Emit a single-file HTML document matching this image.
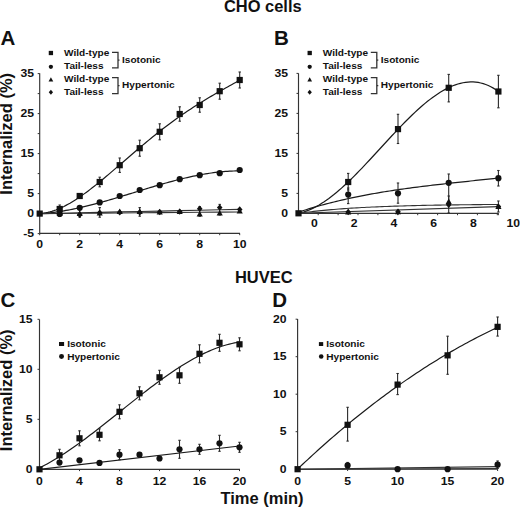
<!DOCTYPE html>
<html><head><meta charset="utf-8"><style>
html,body{margin:0;padding:0;background:#fff;}
svg{display:block;}
text{font-family:"Liberation Sans", sans-serif;font-weight:bold;fill:#111;}
</style></head><body>
<svg width="520" height="508" viewBox="0 0 520 508">
<rect width="520" height="508" fill="#fff"/>
<text transform="translate(262.80,12.20) scale(1.055,1)" font-size="15.6" text-anchor="middle">CHO cells</text>
<text x="263.80" y="283.40" font-size="16.5" text-anchor="middle" >HUVEC</text>
<text x="0.50" y="45.20" font-size="20.5" text-anchor="start" >A</text>
<text x="273.90" y="44.90" font-size="20.5" text-anchor="start" >B</text>
<text x="0.50" y="306.60" font-size="20.5" text-anchor="start" >C</text>
<text x="272.30" y="306.90" font-size="20.5" text-anchor="start" >D</text>
<line x1="39.70" y1="73.30" x2="39.70" y2="233.60" stroke="#333" stroke-width="1.15"/>
<line x1="39.70" y1="233.40" x2="240.00" y2="233.40" stroke="#333" stroke-width="1.15"/>
<line x1="37.70" y1="233.60" x2="39.70" y2="233.60" stroke="#333" stroke-width="1"/>
<line x1="37.70" y1="213.60" x2="39.70" y2="213.60" stroke="#333" stroke-width="1"/>
<line x1="37.70" y1="193.60" x2="39.70" y2="193.60" stroke="#333" stroke-width="1"/>
<line x1="37.70" y1="173.60" x2="39.70" y2="173.60" stroke="#333" stroke-width="1"/>
<line x1="37.70" y1="153.60" x2="39.70" y2="153.60" stroke="#333" stroke-width="1"/>
<line x1="37.70" y1="133.60" x2="39.70" y2="133.60" stroke="#333" stroke-width="1"/>
<line x1="37.70" y1="113.60" x2="39.70" y2="113.60" stroke="#333" stroke-width="1"/>
<line x1="37.70" y1="93.60" x2="39.70" y2="93.60" stroke="#333" stroke-width="1"/>
<line x1="37.70" y1="73.60" x2="39.70" y2="73.60" stroke="#333" stroke-width="1"/>
<line x1="39.70" y1="233.40" x2="39.70" y2="235.20" stroke="#333" stroke-width="1"/>
<line x1="59.70" y1="233.40" x2="59.70" y2="235.20" stroke="#333" stroke-width="1"/>
<line x1="79.70" y1="233.40" x2="79.70" y2="235.20" stroke="#333" stroke-width="1"/>
<line x1="99.70" y1="233.40" x2="99.70" y2="235.20" stroke="#333" stroke-width="1"/>
<line x1="119.70" y1="233.40" x2="119.70" y2="235.20" stroke="#333" stroke-width="1"/>
<line x1="139.70" y1="233.40" x2="139.70" y2="235.20" stroke="#333" stroke-width="1"/>
<line x1="159.70" y1="233.40" x2="159.70" y2="235.20" stroke="#333" stroke-width="1"/>
<line x1="179.70" y1="233.40" x2="179.70" y2="235.20" stroke="#333" stroke-width="1"/>
<line x1="199.70" y1="233.40" x2="199.70" y2="235.20" stroke="#333" stroke-width="1"/>
<line x1="219.70" y1="233.40" x2="219.70" y2="235.20" stroke="#333" stroke-width="1"/>
<line x1="239.70" y1="233.40" x2="239.70" y2="235.20" stroke="#333" stroke-width="1"/>
<text transform="translate(34.10,77.10) scale(1.08,1)" font-size="11.3" text-anchor="end">35</text>
<text transform="translate(34.10,117.10) scale(1.08,1)" font-size="11.3" text-anchor="end">25</text>
<text transform="translate(34.10,157.10) scale(1.08,1)" font-size="11.3" text-anchor="end">15</text>
<text transform="translate(34.10,197.10) scale(1.08,1)" font-size="11.3" text-anchor="end">5</text>
<text transform="translate(34.10,217.10) scale(1.08,1)" font-size="11.3" text-anchor="end">0</text>
<text transform="translate(34.10,237.10) scale(1.08,1)" font-size="11.3" text-anchor="end">-5</text>
<text transform="translate(39.70,247.90) scale(1.08,1)" font-size="11.3" text-anchor="middle">0</text>
<text transform="translate(79.70,247.90) scale(1.08,1)" font-size="11.3" text-anchor="middle">2</text>
<text transform="translate(119.70,247.90) scale(1.08,1)" font-size="11.3" text-anchor="middle">4</text>
<text transform="translate(159.70,247.90) scale(1.08,1)" font-size="11.3" text-anchor="middle">6</text>
<text transform="translate(199.70,247.90) scale(1.08,1)" font-size="11.3" text-anchor="middle">8</text>
<text transform="translate(239.70,247.90) scale(1.08,1)" font-size="11.3" text-anchor="middle">10</text>
<text transform="translate(12.40,194.70) rotate(-90) scale(1.03,1)" font-size="16">Internalized (%)</text>
<polyline points="39.70,213.60 41.72,213.44 43.74,213.19 45.76,212.85 47.78,212.43 49.80,211.93 51.82,211.35 53.84,210.69 55.86,209.97 57.88,209.18 59.90,208.32 61.92,207.40 63.94,206.42 65.96,205.38 67.98,204.29 70.00,203.15 72.02,201.95 74.04,200.71 76.06,199.43 78.08,198.10 80.10,196.73 82.12,195.32 84.14,193.88 86.16,192.41 88.18,190.90 90.21,189.37 92.23,187.81 94.25,186.22 96.27,184.61 98.29,182.98 100.31,181.34 102.33,179.67 104.35,177.99 106.37,176.29 108.39,174.59 110.41,172.87 112.43,171.14 114.45,169.41 116.47,167.67 118.49,165.93 120.51,164.18 122.53,162.43 124.55,160.68 126.57,158.94 128.59,157.19 130.61,155.45 132.63,153.71 134.65,151.98 136.67,150.26 138.69,148.54 140.71,146.83 142.73,145.13 144.75,143.44 146.77,141.77 148.79,140.10 150.81,138.45 152.83,136.81 154.85,135.18 156.87,133.57 158.89,131.97 160.91,130.39 162.93,128.82 164.95,127.27 166.97,125.73 168.99,124.22 171.01,122.71 173.03,121.23 175.05,119.76 177.07,118.31 179.09,116.88 181.11,115.46 183.13,114.07 185.15,112.69 187.17,111.32 189.19,109.97 191.22,108.64 193.24,107.33 195.26,106.03 197.28,104.74 199.30,103.47 201.32,102.22 203.34,100.98 205.36,99.75 207.38,98.54 209.40,97.33 211.42,96.14 213.44,94.96 215.46,93.79 217.48,92.63 219.50,91.47 221.52,90.33 223.54,89.19 225.56,88.05 227.58,86.92 229.60,85.79 231.62,84.66 233.64,83.53 235.66,82.40 237.68,81.27 239.70,80.13" fill="none" stroke="#1a1a1a" stroke-width="1.2" stroke-linejoin="round"/>
<polyline points="39.70,213.60 41.72,213.48 43.74,213.33 45.76,213.16 47.78,212.98 49.80,212.77 51.82,212.54 53.84,212.30 55.86,212.04 57.88,211.75 59.90,211.46 61.92,211.14 63.94,210.81 65.96,210.46 67.98,210.10 70.00,209.72 72.02,209.32 74.04,208.91 76.06,208.49 78.08,208.06 80.10,207.61 82.12,207.15 84.14,206.68 86.16,206.19 88.18,205.70 90.21,205.19 92.23,204.67 94.25,204.15 96.27,203.61 98.29,203.07 100.31,202.52 102.33,201.96 104.35,201.39 106.37,200.82 108.39,200.24 110.41,199.65 112.43,199.06 114.45,198.47 116.47,197.87 118.49,197.26 120.51,196.65 122.53,196.04 124.55,195.43 126.57,194.81 128.59,194.19 130.61,193.57 132.63,192.95 134.65,192.33 136.67,191.71 138.69,191.09 140.71,190.47 142.73,189.85 144.75,189.23 146.77,188.62 148.79,188.01 150.81,187.40 152.83,186.80 154.85,186.20 156.87,185.60 158.89,185.01 160.91,184.43 162.93,183.85 164.95,183.28 166.97,182.71 168.99,182.15 171.01,181.60 173.03,181.06 175.05,180.53 177.07,180.01 179.09,179.49 181.11,178.99 183.13,178.50 185.15,178.02 187.17,177.55 189.19,177.09 191.22,176.65 193.24,176.21 195.26,175.79 197.28,175.39 199.30,175.00 201.32,174.62 203.34,174.26 205.36,173.92 207.38,173.59 209.40,173.28 211.42,172.99 213.44,172.71 215.46,172.45 217.48,172.21 219.50,171.99 221.52,171.79 223.54,171.61 225.56,171.44 227.58,171.30 229.60,171.18 231.62,171.09 233.64,171.01 235.66,170.96 237.68,170.93 239.70,170.92" fill="none" stroke="#1a1a1a" stroke-width="1.2" stroke-linejoin="round"/>
<polyline points="39.70,213.60 59.70,213.44 79.70,213.28 99.70,213.12 119.70,212.96 139.70,212.80 159.70,212.64 179.70,212.48 199.70,212.32 219.70,212.16 239.70,212.00" fill="none" stroke="#333" stroke-width="1.1" stroke-linejoin="round"/>
<polyline points="39.70,213.60 59.70,213.18 79.70,212.76 99.70,212.34 119.70,211.92 139.70,211.50 159.70,211.08 179.70,210.66 199.70,210.24 219.70,209.82 239.70,209.40" fill="none" stroke="#333" stroke-width="1.1" stroke-linejoin="round"/>
<line x1="59.70" y1="205.00" x2="59.70" y2="213.00" stroke="#2a2a2a" stroke-width="1.1"/>
<line x1="58.50" y1="205.00" x2="60.90" y2="205.00" stroke="#2a2a2a" stroke-width="1.1"/>
<line x1="58.50" y1="213.00" x2="60.90" y2="213.00" stroke="#2a2a2a" stroke-width="1.1"/>
<line x1="79.70" y1="193.60" x2="79.70" y2="198.40" stroke="#2a2a2a" stroke-width="1.1"/>
<line x1="78.50" y1="193.60" x2="80.90" y2="193.60" stroke="#2a2a2a" stroke-width="1.1"/>
<line x1="78.50" y1="198.40" x2="80.90" y2="198.40" stroke="#2a2a2a" stroke-width="1.1"/>
<line x1="99.70" y1="177.20" x2="99.70" y2="186.80" stroke="#2a2a2a" stroke-width="1.1"/>
<line x1="98.50" y1="177.20" x2="100.90" y2="177.20" stroke="#2a2a2a" stroke-width="1.1"/>
<line x1="98.50" y1="186.80" x2="100.90" y2="186.80" stroke="#2a2a2a" stroke-width="1.1"/>
<line x1="119.70" y1="158.00" x2="119.70" y2="172.40" stroke="#2a2a2a" stroke-width="1.1"/>
<line x1="118.50" y1="158.00" x2="120.90" y2="158.00" stroke="#2a2a2a" stroke-width="1.1"/>
<line x1="118.50" y1="172.40" x2="120.90" y2="172.40" stroke="#2a2a2a" stroke-width="1.1"/>
<line x1="139.70" y1="140.20" x2="139.70" y2="156.20" stroke="#2a2a2a" stroke-width="1.1"/>
<line x1="138.50" y1="140.20" x2="140.90" y2="140.20" stroke="#2a2a2a" stroke-width="1.1"/>
<line x1="138.50" y1="156.20" x2="140.90" y2="156.20" stroke="#2a2a2a" stroke-width="1.1"/>
<line x1="159.70" y1="123.80" x2="159.70" y2="139.80" stroke="#2a2a2a" stroke-width="1.1"/>
<line x1="158.50" y1="123.80" x2="160.90" y2="123.80" stroke="#2a2a2a" stroke-width="1.1"/>
<line x1="158.50" y1="139.80" x2="160.90" y2="139.80" stroke="#2a2a2a" stroke-width="1.1"/>
<line x1="179.70" y1="106.80" x2="179.70" y2="121.20" stroke="#2a2a2a" stroke-width="1.1"/>
<line x1="178.50" y1="106.80" x2="180.90" y2="106.80" stroke="#2a2a2a" stroke-width="1.1"/>
<line x1="178.50" y1="121.20" x2="180.90" y2="121.20" stroke="#2a2a2a" stroke-width="1.1"/>
<line x1="199.70" y1="97.80" x2="199.70" y2="112.20" stroke="#2a2a2a" stroke-width="1.1"/>
<line x1="198.50" y1="97.80" x2="200.90" y2="97.80" stroke="#2a2a2a" stroke-width="1.1"/>
<line x1="198.50" y1="112.20" x2="200.90" y2="112.20" stroke="#2a2a2a" stroke-width="1.1"/>
<line x1="219.70" y1="83.20" x2="219.70" y2="99.20" stroke="#2a2a2a" stroke-width="1.1"/>
<line x1="218.50" y1="83.20" x2="220.90" y2="83.20" stroke="#2a2a2a" stroke-width="1.1"/>
<line x1="218.50" y1="99.20" x2="220.90" y2="99.20" stroke="#2a2a2a" stroke-width="1.1"/>
<line x1="239.70" y1="72.00" x2="239.70" y2="88.00" stroke="#2a2a2a" stroke-width="1.1"/>
<line x1="238.50" y1="72.00" x2="240.90" y2="72.00" stroke="#2a2a2a" stroke-width="1.1"/>
<line x1="238.50" y1="88.00" x2="240.90" y2="88.00" stroke="#2a2a2a" stroke-width="1.1"/>
<line x1="79.70" y1="208.80" x2="79.70" y2="217.20" stroke="#2a2a2a" stroke-width="1.1"/>
<line x1="78.50" y1="208.80" x2="80.90" y2="208.80" stroke="#2a2a2a" stroke-width="1.1"/>
<line x1="78.50" y1="217.20" x2="80.90" y2="217.20" stroke="#2a2a2a" stroke-width="1.1"/>
<line x1="99.70" y1="207.60" x2="99.70" y2="217.20" stroke="#2a2a2a" stroke-width="1.1"/>
<line x1="98.50" y1="207.60" x2="100.90" y2="207.60" stroke="#2a2a2a" stroke-width="1.1"/>
<line x1="98.50" y1="217.20" x2="100.90" y2="217.20" stroke="#2a2a2a" stroke-width="1.1"/>
<line x1="139.70" y1="207.60" x2="139.70" y2="216.20" stroke="#2a2a2a" stroke-width="1.1"/>
<line x1="138.50" y1="207.60" x2="140.90" y2="207.60" stroke="#2a2a2a" stroke-width="1.1"/>
<line x1="138.50" y1="216.20" x2="140.90" y2="216.20" stroke="#2a2a2a" stroke-width="1.1"/>
<line x1="199.70" y1="206.60" x2="199.70" y2="216.20" stroke="#2a2a2a" stroke-width="1.1"/>
<line x1="198.50" y1="206.60" x2="200.90" y2="206.60" stroke="#2a2a2a" stroke-width="1.1"/>
<line x1="198.50" y1="216.20" x2="200.90" y2="216.20" stroke="#2a2a2a" stroke-width="1.1"/>
<line x1="219.70" y1="204.40" x2="219.70" y2="215.00" stroke="#2a2a2a" stroke-width="1.1"/>
<line x1="218.50" y1="204.40" x2="220.90" y2="204.40" stroke="#2a2a2a" stroke-width="1.1"/>
<line x1="218.50" y1="215.00" x2="220.90" y2="215.00" stroke="#2a2a2a" stroke-width="1.1"/>
<rect x="36.60" y="210.50" width="6.20" height="6.20" fill="#111"/>
<rect x="56.60" y="205.90" width="6.20" height="6.20" fill="#111"/>
<rect x="76.60" y="192.90" width="6.20" height="6.20" fill="#111"/>
<rect x="96.60" y="178.90" width="6.20" height="6.20" fill="#111"/>
<rect x="116.60" y="162.10" width="6.20" height="6.20" fill="#111"/>
<rect x="136.60" y="145.10" width="6.20" height="6.20" fill="#111"/>
<rect x="156.60" y="128.70" width="6.20" height="6.20" fill="#111"/>
<rect x="176.60" y="110.90" width="6.20" height="6.20" fill="#111"/>
<rect x="196.60" y="101.90" width="6.20" height="6.20" fill="#111"/>
<rect x="216.60" y="88.10" width="6.20" height="6.20" fill="#111"/>
<rect x="236.60" y="76.90" width="6.20" height="6.20" fill="#111"/>
<circle cx="59.70" cy="214.00" r="3.10" fill="#111"/>
<circle cx="79.70" cy="207.80" r="3.10" fill="#111"/>
<circle cx="99.70" cy="202.40" r="3.10" fill="#111"/>
<circle cx="119.70" cy="196.00" r="3.10" fill="#111"/>
<circle cx="139.70" cy="190.00" r="3.10" fill="#111"/>
<circle cx="159.70" cy="185.20" r="3.10" fill="#111"/>
<circle cx="179.70" cy="179.20" r="3.10" fill="#111"/>
<circle cx="199.70" cy="175.20" r="3.10" fill="#111"/>
<circle cx="219.70" cy="173.20" r="3.10" fill="#111"/>
<circle cx="239.70" cy="170.00" r="3.10" fill="#111"/>
<polygon points="59.70,210.12 62.78,215.58 56.62,215.58" fill="#111"/>
<polygon points="59.70,210.78 62.50,214.00 59.70,217.22 56.90,214.00" fill="#111"/>
<polygon points="79.70,210.52 82.78,215.98 76.62,215.98" fill="#111"/>
<polygon points="79.70,211.58 82.50,214.80 79.70,218.02 76.90,214.80" fill="#111"/>
<polygon points="99.70,209.92 102.78,215.38 96.62,215.38" fill="#111"/>
<polygon points="99.70,209.58 102.50,212.80 99.70,216.02 96.90,212.80" fill="#111"/>
<polygon points="119.70,208.52 122.78,213.98 116.62,213.98" fill="#111"/>
<polygon points="119.70,209.18 122.50,212.40 119.70,215.62 116.90,212.40" fill="#111"/>
<polygon points="139.70,208.52 142.78,213.98 136.62,213.98" fill="#111"/>
<polygon points="139.70,209.18 142.50,212.40 139.70,215.62 136.90,212.40" fill="#111"/>
<polygon points="159.70,208.92 162.78,214.38 156.62,214.38" fill="#111"/>
<polygon points="159.70,208.78 162.50,212.00 159.70,215.22 156.90,212.00" fill="#111"/>
<polygon points="179.70,208.52 182.78,213.98 176.62,213.98" fill="#111"/>
<polygon points="179.70,208.38 182.50,211.60 179.70,214.82 176.90,211.60" fill="#111"/>
<polygon points="199.70,210.92 202.78,216.38 196.62,216.38" fill="#111"/>
<polygon points="199.70,205.58 202.50,208.80 199.70,212.02 196.90,208.80" fill="#111"/>
<polygon points="219.70,209.92 222.78,215.38 216.62,215.38" fill="#111"/>
<polygon points="219.70,204.38 222.50,207.60 219.70,210.82 216.90,207.60" fill="#111"/>
<polygon points="239.70,208.12 242.78,213.58 236.62,213.58" fill="#111"/>
<polygon points="239.70,206.18 242.50,209.40 239.70,212.62 236.90,209.40" fill="#111"/>
<rect x="48.75" y="50.85" width="4.30" height="4.30" fill="#111"/>
<text transform="translate(64.00,55.60) scale(1.085,1)" font-size="9.3" text-anchor="start">Wild-type</text>
<circle cx="50.90" cy="66.80" r="2.15" fill="#111"/>
<text transform="translate(64.00,69.20) scale(1.085,1)" font-size="9.3" text-anchor="start">Tail-less</text>
<polygon points="50.90,77.23 53.27,81.43 48.54,81.43" fill="#111"/>
<text transform="translate(64.00,82.10) scale(1.085,1)" font-size="9.3" text-anchor="start">Wild-type</text>
<polygon points="50.90,89.73 53.05,92.20 50.90,94.67 48.75,92.20" fill="#111"/>
<text transform="translate(64.00,94.60) scale(1.085,1)" font-size="9.3" text-anchor="start">Tail-less</text>
<path d="M112.00,52.30 H118.00 V67.90 H112.00" fill="none" stroke="#333" stroke-width="1.3"/>
<line x1="118.00" y1="60.10" x2="119.50" y2="60.10" stroke="#333" stroke-width="1.3"/>
<text transform="translate(122.00,62.80) scale(1.085,1)" font-size="9.3" text-anchor="start">Isotonic</text>
<path d="M112.00,77.60 H118.00 V93.60 H112.00" fill="none" stroke="#333" stroke-width="1.3"/>
<line x1="118.00" y1="85.60" x2="119.50" y2="85.60" stroke="#333" stroke-width="1.3"/>
<text transform="translate(122.00,88.10) scale(1.085,1)" font-size="9.3" text-anchor="start">Hypertonic</text>
<line x1="298.50" y1="73.30" x2="298.50" y2="213.40" stroke="#333" stroke-width="1.15"/>
<line x1="298.50" y1="213.40" x2="498.70" y2="213.40" stroke="#333" stroke-width="1.15"/>
<line x1="296.50" y1="213.40" x2="298.50" y2="213.40" stroke="#333" stroke-width="1"/>
<line x1="296.50" y1="193.40" x2="298.50" y2="193.40" stroke="#333" stroke-width="1"/>
<line x1="296.50" y1="173.40" x2="298.50" y2="173.40" stroke="#333" stroke-width="1"/>
<line x1="296.50" y1="153.40" x2="298.50" y2="153.40" stroke="#333" stroke-width="1"/>
<line x1="296.50" y1="133.40" x2="298.50" y2="133.40" stroke="#333" stroke-width="1"/>
<line x1="296.50" y1="113.40" x2="298.50" y2="113.40" stroke="#333" stroke-width="1"/>
<line x1="296.50" y1="93.40" x2="298.50" y2="93.40" stroke="#333" stroke-width="1"/>
<line x1="296.50" y1="73.40" x2="298.50" y2="73.40" stroke="#333" stroke-width="1"/>
<line x1="318.20" y1="213.40" x2="318.20" y2="215.20" stroke="#333" stroke-width="1"/>
<line x1="338.10" y1="213.40" x2="338.10" y2="215.20" stroke="#333" stroke-width="1"/>
<line x1="358.00" y1="213.40" x2="358.00" y2="215.20" stroke="#333" stroke-width="1"/>
<line x1="377.90" y1="213.40" x2="377.90" y2="215.20" stroke="#333" stroke-width="1"/>
<line x1="397.80" y1="213.40" x2="397.80" y2="215.20" stroke="#333" stroke-width="1"/>
<line x1="417.70" y1="213.40" x2="417.70" y2="215.20" stroke="#333" stroke-width="1"/>
<line x1="437.60" y1="213.40" x2="437.60" y2="215.20" stroke="#333" stroke-width="1"/>
<line x1="457.50" y1="213.40" x2="457.50" y2="215.20" stroke="#333" stroke-width="1"/>
<line x1="477.40" y1="213.40" x2="477.40" y2="215.20" stroke="#333" stroke-width="1"/>
<line x1="497.30" y1="213.40" x2="497.30" y2="215.20" stroke="#333" stroke-width="1"/>
<line x1="498.40" y1="213.40" x2="498.40" y2="215.20" stroke="#333" stroke-width="1"/>
<text transform="translate(288.10,76.90) scale(1.08,1)" font-size="11.3" text-anchor="end">35</text>
<text transform="translate(288.10,116.90) scale(1.08,1)" font-size="11.3" text-anchor="end">25</text>
<text transform="translate(288.10,156.90) scale(1.08,1)" font-size="11.3" text-anchor="end">15</text>
<text transform="translate(288.10,196.90) scale(1.08,1)" font-size="11.3" text-anchor="end">5</text>
<text transform="translate(288.10,216.90) scale(1.08,1)" font-size="11.3" text-anchor="end">0</text>
<text transform="translate(314.30,226.60) scale(1.08,1)" font-size="11.3" text-anchor="middle">0</text>
<text transform="translate(354.10,226.60) scale(1.08,1)" font-size="11.3" text-anchor="middle">2</text>
<text transform="translate(393.90,226.60) scale(1.08,1)" font-size="11.3" text-anchor="middle">4</text>
<text transform="translate(433.70,226.60) scale(1.08,1)" font-size="11.3" text-anchor="middle">6</text>
<text transform="translate(473.50,226.60) scale(1.08,1)" font-size="11.3" text-anchor="middle">8</text>
<text transform="translate(513.30,226.60) scale(1.08,1)" font-size="11.3" text-anchor="middle">10</text>
<rect x="307.55" y="50.85" width="4.30" height="4.30" fill="#111"/>
<text transform="translate(322.80,55.60) scale(1.085,1)" font-size="9.3" text-anchor="start">Wild-type</text>
<circle cx="309.70" cy="66.80" r="2.15" fill="#111"/>
<text transform="translate(322.80,69.20) scale(1.085,1)" font-size="9.3" text-anchor="start">Tail-less</text>
<polygon points="309.70,77.23 312.06,81.43 307.33,81.43" fill="#111"/>
<text transform="translate(322.80,82.10) scale(1.085,1)" font-size="9.3" text-anchor="start">Wild-type</text>
<polygon points="309.70,89.73 311.85,92.20 309.70,94.67 307.55,92.20" fill="#111"/>
<text transform="translate(322.80,94.60) scale(1.085,1)" font-size="9.3" text-anchor="start">Tail-less</text>
<path d="M370.80,52.30 H376.80 V67.90 H370.80" fill="none" stroke="#333" stroke-width="1.3"/>
<line x1="376.80" y1="60.10" x2="378.30" y2="60.10" stroke="#333" stroke-width="1.3"/>
<text transform="translate(380.80,62.80) scale(1.085,1)" font-size="9.3" text-anchor="start">Isotonic</text>
<path d="M370.80,77.60 H376.80 V93.60 H370.80" fill="none" stroke="#333" stroke-width="1.3"/>
<line x1="376.80" y1="85.60" x2="378.30" y2="85.60" stroke="#333" stroke-width="1.3"/>
<text transform="translate(380.80,88.10) scale(1.085,1)" font-size="9.3" text-anchor="start">Hypertonic</text>
<polyline points="298.50,213.32 301.03,212.74 303.56,212.03 306.09,211.18 308.62,210.21 311.15,209.12 313.68,207.91 316.21,206.59 318.74,205.16 321.27,203.62 323.80,201.98 326.33,200.25 328.86,198.43 331.39,196.51 333.93,194.52 336.46,192.44 338.99,190.29 341.52,188.08 344.05,185.79 346.58,183.44 349.11,181.04 351.64,178.58 354.17,176.07 356.70,173.52 359.23,170.93 361.76,168.30 364.29,165.64 366.82,162.96 369.35,160.25 371.88,157.52 374.41,154.77 376.94,152.02 379.47,149.26 382.00,146.49 384.53,143.73 387.06,140.98 389.59,138.24 392.12,135.51 394.65,132.80 397.18,130.12 399.72,127.46 402.25,124.84 404.78,122.25 407.31,119.71 409.84,117.21 412.37,114.76 414.90,112.36 417.43,110.02 419.96,107.75 422.49,105.54 425.02,103.40 427.55,101.33 430.08,99.35 432.61,97.45 435.14,95.64 437.67,93.92 440.20,92.30 442.73,90.77 445.26,89.36 447.79,88.05 450.32,86.86 452.85,85.78 455.38,84.83 457.91,84.00 460.44,83.31 462.97,82.74 465.51,82.32 468.04,82.05 470.57,81.92 473.10,81.94 475.63,82.12 478.16,82.46 480.69,82.97 483.22,83.64 485.75,84.49 488.28,85.52 490.81,86.73 493.34,88.12 495.87,89.71 498.40,91.49" fill="none" stroke="#1a1a1a" stroke-width="1.2" stroke-linejoin="round"/>
<polyline points="298.50,212.16 301.03,211.33 303.56,210.52 306.09,209.72 308.62,208.94 311.15,208.18 313.68,207.43 316.21,206.70 318.74,205.98 321.27,205.27 323.80,204.59 326.33,203.91 328.86,203.25 331.39,202.60 333.93,201.97 336.46,201.35 338.99,200.74 341.52,200.15 344.05,199.57 346.58,199.00 349.11,198.44 351.64,197.90 354.17,197.36 356.70,196.84 359.23,196.33 361.76,195.83 364.29,195.34 366.82,194.86 369.35,194.39 371.88,193.93 374.41,193.48 376.94,193.04 379.47,192.61 382.00,192.19 384.53,191.77 387.06,191.37 389.59,190.97 392.12,190.58 394.65,190.20 397.18,189.82 399.72,189.45 402.25,189.09 404.78,188.74 407.31,188.39 409.84,188.05 412.37,187.71 414.90,187.38 417.43,187.05 419.96,186.73 422.49,186.42 425.02,186.11 427.55,185.80 430.08,185.50 432.61,185.20 435.14,184.90 437.67,184.61 440.20,184.32 442.73,184.04 445.26,183.76 447.79,183.47 450.32,183.20 452.85,182.92 455.38,182.64 457.91,182.37 460.44,182.10 462.97,181.82 465.51,181.55 468.04,181.28 470.57,181.01 473.10,180.74 475.63,180.47 478.16,180.20 480.69,179.92 483.22,179.65 485.75,179.37 488.28,179.10 490.81,178.82 493.34,178.53 495.87,178.25 498.40,177.96" fill="none" stroke="#1a1a1a" stroke-width="1.2" stroke-linejoin="round"/>
<polyline points="298.50,213.30 301.03,212.95 303.56,212.61 306.09,212.29 308.62,211.98 311.15,211.68 313.68,211.39 316.21,211.11 318.74,210.84 321.27,210.59 323.80,210.34 326.33,210.10 328.86,209.87 331.39,209.65 333.93,209.44 336.46,209.23 338.99,209.04 341.52,208.85 344.05,208.66 346.58,208.49 349.11,208.32 351.64,208.16 354.17,208.00 356.70,207.85 359.23,207.71 361.76,207.57 364.29,207.43 366.82,207.30 369.35,207.18 371.88,207.06 374.41,206.94 376.94,206.83 379.47,206.73 382.00,206.62 384.53,206.53 387.06,206.43 389.59,206.34 392.12,206.25 394.65,206.17 397.18,206.09 399.72,206.01 402.25,205.93 404.78,205.86 407.31,205.79 409.84,205.72 412.37,205.66 414.90,205.59 417.43,205.53 419.96,205.48 422.49,205.42 425.02,205.37 427.55,205.32 430.08,205.27 432.61,205.22 435.14,205.17 437.67,205.13 440.20,205.09 442.73,205.05 445.26,205.01 447.79,204.97 450.32,204.93 452.85,204.90 455.38,204.86 457.91,204.83 460.44,204.80 462.97,204.77 465.51,204.74 468.04,204.71 470.57,204.69 473.10,204.66 475.63,204.64 478.16,204.61 480.69,204.59 483.22,204.57 485.75,204.54 488.28,204.52 490.81,204.50 493.34,204.49 495.87,204.47 498.40,204.45" fill="none" stroke="#333" stroke-width="1.1" stroke-linejoin="round"/>
<line x1="298.50" y1="213.30" x2="498.40" y2="206.60" stroke="#333" stroke-width="1.1"/>
<line x1="348.20" y1="173.40" x2="348.20" y2="190.00" stroke="#2a2a2a" stroke-width="1.1"/>
<line x1="347.00" y1="173.40" x2="349.40" y2="173.40" stroke="#2a2a2a" stroke-width="1.1"/>
<line x1="347.00" y1="190.00" x2="349.40" y2="190.00" stroke="#2a2a2a" stroke-width="1.1"/>
<line x1="398.00" y1="114.30" x2="398.00" y2="143.50" stroke="#2a2a2a" stroke-width="1.1"/>
<line x1="396.80" y1="114.30" x2="399.20" y2="114.30" stroke="#2a2a2a" stroke-width="1.1"/>
<line x1="396.80" y1="143.50" x2="399.20" y2="143.50" stroke="#2a2a2a" stroke-width="1.1"/>
<line x1="448.70" y1="74.40" x2="448.70" y2="101.90" stroke="#2a2a2a" stroke-width="1.1"/>
<line x1="447.50" y1="74.40" x2="449.90" y2="74.40" stroke="#2a2a2a" stroke-width="1.1"/>
<line x1="447.50" y1="101.90" x2="449.90" y2="101.90" stroke="#2a2a2a" stroke-width="1.1"/>
<line x1="498.40" y1="75.30" x2="498.40" y2="107.80" stroke="#2a2a2a" stroke-width="1.1"/>
<line x1="497.20" y1="75.30" x2="499.60" y2="75.30" stroke="#2a2a2a" stroke-width="1.1"/>
<line x1="497.20" y1="107.80" x2="499.60" y2="107.80" stroke="#2a2a2a" stroke-width="1.1"/>
<line x1="348.20" y1="188.00" x2="348.20" y2="203.60" stroke="#2a2a2a" stroke-width="1.1"/>
<line x1="347.00" y1="188.00" x2="349.40" y2="188.00" stroke="#2a2a2a" stroke-width="1.1"/>
<line x1="347.00" y1="203.60" x2="349.40" y2="203.60" stroke="#2a2a2a" stroke-width="1.1"/>
<line x1="398.00" y1="183.00" x2="398.00" y2="203.20" stroke="#2a2a2a" stroke-width="1.1"/>
<line x1="396.80" y1="183.00" x2="399.20" y2="183.00" stroke="#2a2a2a" stroke-width="1.1"/>
<line x1="396.80" y1="203.20" x2="399.20" y2="203.20" stroke="#2a2a2a" stroke-width="1.1"/>
<line x1="448.70" y1="174.00" x2="448.70" y2="203.00" stroke="#2a2a2a" stroke-width="1.1"/>
<line x1="447.50" y1="174.00" x2="449.90" y2="174.00" stroke="#2a2a2a" stroke-width="1.1"/>
<line x1="447.50" y1="203.00" x2="449.90" y2="203.00" stroke="#2a2a2a" stroke-width="1.1"/>
<line x1="498.40" y1="170.50" x2="498.40" y2="186.00" stroke="#2a2a2a" stroke-width="1.1"/>
<line x1="497.20" y1="170.50" x2="499.60" y2="170.50" stroke="#2a2a2a" stroke-width="1.1"/>
<line x1="497.20" y1="186.00" x2="499.60" y2="186.00" stroke="#2a2a2a" stroke-width="1.1"/>
<line x1="448.70" y1="196.00" x2="448.70" y2="213.00" stroke="#2a2a2a" stroke-width="1.1"/>
<line x1="447.50" y1="196.00" x2="449.90" y2="196.00" stroke="#2a2a2a" stroke-width="1.1"/>
<line x1="447.50" y1="213.00" x2="449.90" y2="213.00" stroke="#2a2a2a" stroke-width="1.1"/>
<line x1="498.40" y1="201.00" x2="498.40" y2="212.00" stroke="#2a2a2a" stroke-width="1.1"/>
<line x1="497.20" y1="201.00" x2="499.60" y2="201.00" stroke="#2a2a2a" stroke-width="1.1"/>
<line x1="497.20" y1="212.00" x2="499.60" y2="212.00" stroke="#2a2a2a" stroke-width="1.1"/>
<rect x="295.40" y="210.20" width="6.20" height="6.20" fill="#111"/>
<rect x="345.10" y="178.90" width="6.20" height="6.20" fill="#111"/>
<rect x="394.90" y="126.00" width="6.20" height="6.20" fill="#111"/>
<rect x="445.60" y="84.70" width="6.20" height="6.20" fill="#111"/>
<rect x="495.30" y="88.40" width="6.20" height="6.20" fill="#111"/>
<circle cx="348.20" cy="194.60" r="3.10" fill="#111"/>
<circle cx="398.00" cy="193.30" r="3.10" fill="#111"/>
<circle cx="448.70" cy="182.80" r="3.10" fill="#111"/>
<circle cx="498.40" cy="178.20" r="3.10" fill="#111"/>
<polygon points="348.20,209.12 351.28,214.58 345.12,214.58" fill="#111"/>
<polygon points="398.00,208.72 401.08,214.18 394.92,214.18" fill="#111"/>
<polygon points="448.70,198.42 451.78,203.88 445.62,203.88" fill="#111"/>
<polygon points="498.40,203.42 501.48,208.88 495.32,208.88" fill="#111"/>
<polygon points="348.20,208.78 351.00,212.00 348.20,215.22 345.40,212.00" fill="#111"/>
<polygon points="398.00,208.48 400.80,211.70 398.00,214.92 395.20,211.70" fill="#111"/>
<polygon points="448.70,201.58 451.50,204.80 448.70,208.02 445.90,204.80" fill="#111"/>
<polygon points="498.40,203.38 501.20,206.60 498.40,209.82 495.60,206.60" fill="#111"/>
<line x1="39.50" y1="319.40" x2="39.50" y2="469.30" stroke="#333" stroke-width="1.15"/>
<line x1="39.50" y1="469.30" x2="240.00" y2="469.30" stroke="#333" stroke-width="1.15"/>
<line x1="37.50" y1="469.30" x2="39.50" y2="469.30" stroke="#333" stroke-width="1"/>
<line x1="37.50" y1="419.30" x2="39.50" y2="419.30" stroke="#333" stroke-width="1"/>
<line x1="37.50" y1="369.30" x2="39.50" y2="369.30" stroke="#333" stroke-width="1"/>
<line x1="37.50" y1="319.30" x2="39.50" y2="319.30" stroke="#333" stroke-width="1"/>
<line x1="39.50" y1="469.30" x2="39.50" y2="471.10" stroke="#333" stroke-width="1"/>
<line x1="79.50" y1="469.30" x2="79.50" y2="471.10" stroke="#333" stroke-width="1"/>
<line x1="119.50" y1="469.30" x2="119.50" y2="471.10" stroke="#333" stroke-width="1"/>
<line x1="159.50" y1="469.30" x2="159.50" y2="471.10" stroke="#333" stroke-width="1"/>
<line x1="199.50" y1="469.30" x2="199.50" y2="471.10" stroke="#333" stroke-width="1"/>
<line x1="239.50" y1="469.30" x2="239.50" y2="471.10" stroke="#333" stroke-width="1"/>
<text transform="translate(32.60,322.80) scale(1.08,1)" font-size="11.3" text-anchor="end">15</text>
<text transform="translate(32.60,372.80) scale(1.08,1)" font-size="11.3" text-anchor="end">10</text>
<text transform="translate(32.60,422.80) scale(1.08,1)" font-size="11.3" text-anchor="end">5</text>
<text transform="translate(32.60,472.80) scale(1.08,1)" font-size="11.3" text-anchor="end">0</text>
<text transform="translate(39.50,485.10) scale(1.08,1)" font-size="11.3" text-anchor="middle">0</text>
<text transform="translate(79.50,485.10) scale(1.08,1)" font-size="11.3" text-anchor="middle">4</text>
<text transform="translate(119.50,485.10) scale(1.08,1)" font-size="11.3" text-anchor="middle">8</text>
<text transform="translate(159.50,485.10) scale(1.08,1)" font-size="11.3" text-anchor="middle">12</text>
<text transform="translate(199.50,485.10) scale(1.08,1)" font-size="11.3" text-anchor="middle">16</text>
<text transform="translate(239.50,485.10) scale(1.08,1)" font-size="11.3" text-anchor="middle">20</text>
<text transform="translate(12.40,451.20) rotate(-90) scale(1.03,1)" font-size="16">Internalized (%)</text>
<polyline points="39.50,467.92 42.03,466.63 44.56,465.30 47.09,463.92 49.63,462.50 52.16,461.04 54.69,459.54 57.22,458.00 59.75,456.42 62.28,454.80 64.82,453.15 67.35,451.47 69.88,449.76 72.41,448.01 74.94,446.24 77.47,444.44 80.01,442.62 82.54,440.77 85.07,438.90 87.60,437.01 90.13,435.10 92.66,433.17 95.20,431.22 97.73,429.26 100.26,427.29 102.79,425.30 105.32,423.31 107.85,421.30 110.39,419.29 112.92,417.27 115.45,415.25 117.98,413.23 120.51,411.20 123.04,409.17 125.58,407.15 128.11,405.13 130.64,403.11 133.17,401.10 135.70,399.10 138.23,397.10 140.77,395.12 143.30,393.15 145.83,391.19 148.36,389.25 150.89,387.32 153.42,385.41 155.96,383.53 158.49,381.66 161.02,379.81 163.55,377.99 166.08,376.20 168.61,374.43 171.15,372.69 173.68,370.98 176.21,369.31 178.74,367.66 181.27,366.06 183.80,364.48 186.34,362.95 188.87,361.45 191.40,360.00 193.93,358.58 196.46,357.21 198.99,355.89 201.53,354.61 204.06,353.38 206.59,352.20 209.12,351.08 211.65,350.00 214.18,348.98 216.72,348.01 219.25,347.10 221.78,346.25 224.31,345.47 226.84,344.74 229.37,344.07 231.91,343.47 234.44,342.94 236.97,342.47 239.50,342.08" fill="none" stroke="#1a1a1a" stroke-width="1.2" stroke-linejoin="round"/>
<line x1="39.50" y1="469.30" x2="239.50" y2="446.00" stroke="#1a1a1a" stroke-width="1.2"/>
<line x1="59.50" y1="449.30" x2="59.50" y2="461.30" stroke="#2a2a2a" stroke-width="1.1"/>
<line x1="58.30" y1="449.30" x2="60.70" y2="449.30" stroke="#2a2a2a" stroke-width="1.1"/>
<line x1="58.30" y1="461.30" x2="60.70" y2="461.30" stroke="#2a2a2a" stroke-width="1.1"/>
<line x1="79.50" y1="430.80" x2="79.50" y2="445.80" stroke="#2a2a2a" stroke-width="1.1"/>
<line x1="78.30" y1="430.80" x2="80.70" y2="430.80" stroke="#2a2a2a" stroke-width="1.1"/>
<line x1="78.30" y1="445.80" x2="80.70" y2="445.80" stroke="#2a2a2a" stroke-width="1.1"/>
<line x1="99.50" y1="428.80" x2="99.50" y2="440.80" stroke="#2a2a2a" stroke-width="1.1"/>
<line x1="98.30" y1="428.80" x2="100.70" y2="428.80" stroke="#2a2a2a" stroke-width="1.1"/>
<line x1="98.30" y1="440.80" x2="100.70" y2="440.80" stroke="#2a2a2a" stroke-width="1.1"/>
<line x1="119.50" y1="404.80" x2="119.50" y2="418.80" stroke="#2a2a2a" stroke-width="1.1"/>
<line x1="118.30" y1="404.80" x2="120.70" y2="404.80" stroke="#2a2a2a" stroke-width="1.1"/>
<line x1="118.30" y1="418.80" x2="120.70" y2="418.80" stroke="#2a2a2a" stroke-width="1.1"/>
<line x1="139.50" y1="386.80" x2="139.50" y2="399.80" stroke="#2a2a2a" stroke-width="1.1"/>
<line x1="138.30" y1="386.80" x2="140.70" y2="386.80" stroke="#2a2a2a" stroke-width="1.1"/>
<line x1="138.30" y1="399.80" x2="140.70" y2="399.80" stroke="#2a2a2a" stroke-width="1.1"/>
<line x1="159.50" y1="370.30" x2="159.50" y2="384.30" stroke="#2a2a2a" stroke-width="1.1"/>
<line x1="158.30" y1="370.30" x2="160.70" y2="370.30" stroke="#2a2a2a" stroke-width="1.1"/>
<line x1="158.30" y1="384.30" x2="160.70" y2="384.30" stroke="#2a2a2a" stroke-width="1.1"/>
<line x1="179.50" y1="367.30" x2="179.50" y2="383.30" stroke="#2a2a2a" stroke-width="1.1"/>
<line x1="178.30" y1="367.30" x2="180.70" y2="367.30" stroke="#2a2a2a" stroke-width="1.1"/>
<line x1="178.30" y1="383.30" x2="180.70" y2="383.30" stroke="#2a2a2a" stroke-width="1.1"/>
<line x1="199.50" y1="344.80" x2="199.50" y2="362.80" stroke="#2a2a2a" stroke-width="1.1"/>
<line x1="198.30" y1="344.80" x2="200.70" y2="344.80" stroke="#2a2a2a" stroke-width="1.1"/>
<line x1="198.30" y1="362.80" x2="200.70" y2="362.80" stroke="#2a2a2a" stroke-width="1.1"/>
<line x1="219.50" y1="334.30" x2="219.50" y2="351.30" stroke="#2a2a2a" stroke-width="1.1"/>
<line x1="218.30" y1="334.30" x2="220.70" y2="334.30" stroke="#2a2a2a" stroke-width="1.1"/>
<line x1="218.30" y1="351.30" x2="220.70" y2="351.30" stroke="#2a2a2a" stroke-width="1.1"/>
<line x1="239.50" y1="337.80" x2="239.50" y2="350.80" stroke="#2a2a2a" stroke-width="1.1"/>
<line x1="238.30" y1="337.80" x2="240.70" y2="337.80" stroke="#2a2a2a" stroke-width="1.1"/>
<line x1="238.30" y1="350.80" x2="240.70" y2="350.80" stroke="#2a2a2a" stroke-width="1.1"/>
<line x1="119.50" y1="449.70" x2="119.50" y2="459.70" stroke="#2a2a2a" stroke-width="1.1"/>
<line x1="118.30" y1="449.70" x2="120.70" y2="449.70" stroke="#2a2a2a" stroke-width="1.1"/>
<line x1="118.30" y1="459.70" x2="120.70" y2="459.70" stroke="#2a2a2a" stroke-width="1.1"/>
<line x1="179.50" y1="440.30" x2="179.50" y2="458.30" stroke="#2a2a2a" stroke-width="1.1"/>
<line x1="178.30" y1="440.30" x2="180.70" y2="440.30" stroke="#2a2a2a" stroke-width="1.1"/>
<line x1="178.30" y1="458.30" x2="180.70" y2="458.30" stroke="#2a2a2a" stroke-width="1.1"/>
<line x1="199.50" y1="444.30" x2="199.50" y2="454.30" stroke="#2a2a2a" stroke-width="1.1"/>
<line x1="198.30" y1="444.30" x2="200.70" y2="444.30" stroke="#2a2a2a" stroke-width="1.1"/>
<line x1="198.30" y1="454.30" x2="200.70" y2="454.30" stroke="#2a2a2a" stroke-width="1.1"/>
<line x1="219.50" y1="435.30" x2="219.50" y2="451.30" stroke="#2a2a2a" stroke-width="1.1"/>
<line x1="218.30" y1="435.30" x2="220.70" y2="435.30" stroke="#2a2a2a" stroke-width="1.1"/>
<line x1="218.30" y1="451.30" x2="220.70" y2="451.30" stroke="#2a2a2a" stroke-width="1.1"/>
<line x1="239.50" y1="442.30" x2="239.50" y2="452.30" stroke="#2a2a2a" stroke-width="1.1"/>
<line x1="238.30" y1="442.30" x2="240.70" y2="442.30" stroke="#2a2a2a" stroke-width="1.1"/>
<line x1="238.30" y1="452.30" x2="240.70" y2="452.30" stroke="#2a2a2a" stroke-width="1.1"/>
<rect x="36.40" y="466.20" width="6.20" height="6.20" fill="#111"/>
<rect x="56.40" y="452.20" width="6.20" height="6.20" fill="#111"/>
<rect x="76.40" y="435.20" width="6.20" height="6.20" fill="#111"/>
<rect x="96.40" y="431.70" width="6.20" height="6.20" fill="#111"/>
<rect x="116.40" y="408.70" width="6.20" height="6.20" fill="#111"/>
<rect x="136.40" y="390.20" width="6.20" height="6.20" fill="#111"/>
<rect x="156.40" y="374.20" width="6.20" height="6.20" fill="#111"/>
<rect x="176.40" y="372.20" width="6.20" height="6.20" fill="#111"/>
<rect x="196.40" y="350.70" width="6.20" height="6.20" fill="#111"/>
<rect x="216.40" y="339.70" width="6.20" height="6.20" fill="#111"/>
<rect x="236.40" y="341.20" width="6.20" height="6.20" fill="#111"/>
<circle cx="59.50" cy="462.60" r="3.10" fill="#111"/>
<circle cx="79.50" cy="460.30" r="3.10" fill="#111"/>
<circle cx="99.50" cy="462.90" r="3.10" fill="#111"/>
<circle cx="119.50" cy="454.70" r="3.10" fill="#111"/>
<circle cx="139.50" cy="454.70" r="3.10" fill="#111"/>
<circle cx="159.50" cy="458.50" r="3.10" fill="#111"/>
<circle cx="179.50" cy="449.30" r="3.10" fill="#111"/>
<circle cx="199.50" cy="449.30" r="3.10" fill="#111"/>
<circle cx="219.50" cy="443.30" r="3.10" fill="#111"/>
<circle cx="239.50" cy="447.30" r="3.10" fill="#111"/>
<rect x="59.0" y="342.0" width="5.1" height="4.0" fill="#111"/>
<text transform="translate(67.20,347.00) scale(1.085,1)" font-size="9.3" text-anchor="start">Isotonic</text>
<ellipse cx="61.5" cy="356.5" rx="2.5" ry="2.4" fill="#111"/>
<text transform="translate(67.20,359.60) scale(1.085,1)" font-size="9.3" text-anchor="start">Hypertonic</text>
<line x1="297.60" y1="319.00" x2="297.60" y2="469.20" stroke="#333" stroke-width="1.15"/>
<line x1="297.60" y1="469.20" x2="498.00" y2="469.20" stroke="#333" stroke-width="1.15"/>
<line x1="295.60" y1="469.20" x2="297.60" y2="469.20" stroke="#333" stroke-width="1"/>
<line x1="295.60" y1="431.70" x2="297.60" y2="431.70" stroke="#333" stroke-width="1"/>
<line x1="295.60" y1="394.20" x2="297.60" y2="394.20" stroke="#333" stroke-width="1"/>
<line x1="295.60" y1="356.70" x2="297.60" y2="356.70" stroke="#333" stroke-width="1"/>
<line x1="295.60" y1="319.20" x2="297.60" y2="319.20" stroke="#333" stroke-width="1"/>
<line x1="297.60" y1="469.20" x2="297.60" y2="471.00" stroke="#333" stroke-width="1"/>
<line x1="347.60" y1="469.20" x2="347.60" y2="471.00" stroke="#333" stroke-width="1"/>
<line x1="397.60" y1="469.20" x2="397.60" y2="471.00" stroke="#333" stroke-width="1"/>
<line x1="447.60" y1="469.20" x2="447.60" y2="471.00" stroke="#333" stroke-width="1"/>
<line x1="497.60" y1="469.20" x2="497.60" y2="471.00" stroke="#333" stroke-width="1"/>
<text transform="translate(286.50,322.70) scale(1.08,1)" font-size="11.3" text-anchor="end">20</text>
<text transform="translate(286.50,360.20) scale(1.08,1)" font-size="11.3" text-anchor="end">15</text>
<text transform="translate(286.50,397.70) scale(1.08,1)" font-size="11.3" text-anchor="end">10</text>
<text transform="translate(286.50,435.20) scale(1.08,1)" font-size="11.3" text-anchor="end">5</text>
<text transform="translate(286.50,472.70) scale(1.08,1)" font-size="11.3" text-anchor="end">0</text>
<text transform="translate(297.60,485.30) scale(1.08,1)" font-size="11.3" text-anchor="middle">0</text>
<text transform="translate(347.60,485.30) scale(1.08,1)" font-size="11.3" text-anchor="middle">5</text>
<text transform="translate(397.60,485.30) scale(1.08,1)" font-size="11.3" text-anchor="middle">10</text>
<text transform="translate(447.60,485.30) scale(1.08,1)" font-size="11.3" text-anchor="middle">15</text>
<text transform="translate(497.60,485.30) scale(1.08,1)" font-size="11.3" text-anchor="middle">20</text>
<polyline points="297.60,469.10 300.13,466.69 302.66,464.31 305.19,461.93 307.73,459.58 310.26,457.23 312.79,454.91 315.32,452.60 317.85,450.31 320.38,448.03 322.92,445.76 325.45,443.52 327.98,441.29 330.51,439.07 333.04,436.87 335.57,434.68 338.11,432.52 340.64,430.36 343.17,428.22 345.70,426.10 348.23,424.00 350.76,421.91 353.30,419.83 355.83,417.77 358.36,415.73 360.89,413.70 363.42,411.69 365.95,409.69 368.49,407.71 371.02,405.74 373.55,403.79 376.08,401.86 378.61,399.94 381.14,398.04 383.68,396.15 386.21,394.28 388.74,392.42 391.27,390.58 393.80,388.76 396.33,386.95 398.87,385.16 401.40,383.38 403.93,381.62 406.46,379.87 408.99,378.14 411.52,376.43 414.06,374.73 416.59,373.04 419.12,371.38 421.65,369.72 424.18,368.09 426.71,366.47 429.25,364.86 431.78,363.27 434.31,361.70 436.84,360.14 439.37,358.60 441.90,357.07 444.44,355.56 446.97,354.06 449.50,352.58 452.03,351.12 454.56,349.67 457.09,348.24 459.63,346.82 462.16,345.42 464.69,344.03 467.22,342.66 469.75,341.31 472.28,339.97 474.82,338.64 477.35,337.34 479.88,336.04 482.41,334.77 484.94,333.51 487.47,332.26 490.01,331.03 492.54,329.82 495.07,328.62 497.60,327.44" fill="none" stroke="#1a1a1a" stroke-width="1.2" stroke-linejoin="round"/>
<line x1="297.60" y1="469.20" x2="497.60" y2="466.65" stroke="#333" stroke-width="1.1"/>
<line x1="297.60" y1="469.20" x2="497.60" y2="468.45" stroke="#333" stroke-width="1.1"/>
<line x1="347.60" y1="407.30" x2="347.60" y2="441.10" stroke="#2a2a2a" stroke-width="1.1"/>
<line x1="346.40" y1="407.30" x2="348.80" y2="407.30" stroke="#2a2a2a" stroke-width="1.1"/>
<line x1="346.40" y1="441.10" x2="348.80" y2="441.10" stroke="#2a2a2a" stroke-width="1.1"/>
<line x1="397.60" y1="373.50" x2="397.60" y2="394.60" stroke="#2a2a2a" stroke-width="1.1"/>
<line x1="396.40" y1="373.50" x2="398.80" y2="373.50" stroke="#2a2a2a" stroke-width="1.1"/>
<line x1="396.40" y1="394.60" x2="398.80" y2="394.60" stroke="#2a2a2a" stroke-width="1.1"/>
<line x1="447.60" y1="336.20" x2="447.60" y2="374.30" stroke="#2a2a2a" stroke-width="1.1"/>
<line x1="446.40" y1="336.20" x2="448.80" y2="336.20" stroke="#2a2a2a" stroke-width="1.1"/>
<line x1="446.40" y1="374.30" x2="448.80" y2="374.30" stroke="#2a2a2a" stroke-width="1.1"/>
<line x1="497.60" y1="317.00" x2="497.60" y2="336.10" stroke="#2a2a2a" stroke-width="1.1"/>
<line x1="496.40" y1="317.00" x2="498.80" y2="317.00" stroke="#2a2a2a" stroke-width="1.1"/>
<line x1="496.40" y1="336.10" x2="498.80" y2="336.10" stroke="#2a2a2a" stroke-width="1.1"/>
<line x1="347.60" y1="462.45" x2="347.60" y2="468.45" stroke="#2a2a2a" stroke-width="1.1"/>
<line x1="346.40" y1="462.45" x2="348.80" y2="462.45" stroke="#2a2a2a" stroke-width="1.1"/>
<line x1="346.40" y1="468.45" x2="348.80" y2="468.45" stroke="#2a2a2a" stroke-width="1.1"/>
<line x1="497.60" y1="460.95" x2="497.60" y2="468.45" stroke="#2a2a2a" stroke-width="1.1"/>
<line x1="496.40" y1="460.95" x2="498.80" y2="460.95" stroke="#2a2a2a" stroke-width="1.1"/>
<line x1="496.40" y1="468.45" x2="498.80" y2="468.45" stroke="#2a2a2a" stroke-width="1.1"/>
<rect x="294.50" y="466.10" width="6.20" height="6.20" fill="#111"/>
<rect x="344.50" y="421.70" width="6.20" height="6.20" fill="#111"/>
<rect x="394.50" y="381.50" width="6.20" height="6.20" fill="#111"/>
<rect x="444.50" y="352.25" width="6.20" height="6.20" fill="#111"/>
<rect x="494.50" y="323.75" width="6.20" height="6.20" fill="#111"/>
<circle cx="347.60" cy="465.45" r="3.10" fill="#111"/>
<circle cx="397.60" cy="469.20" r="3.10" fill="#111"/>
<circle cx="447.60" cy="469.20" r="3.10" fill="#111"/>
<circle cx="497.60" cy="464.70" r="3.10" fill="#111"/>
<rect x="318.9" y="342.1" width="4.3" height="3.9" fill="#111"/>
<text transform="translate(326.30,347.20) scale(1.085,1)" font-size="9.3" text-anchor="start">Isotonic</text>
<circle cx="321.2" cy="356.5" r="2.3" fill="#111"/>
<text transform="translate(326.30,359.90) scale(1.085,1)" font-size="9.3" text-anchor="start">Hypertonic</text>
<text x="262.00" y="503.70" font-size="16.5" text-anchor="middle" >Time (min)</text>
</svg>
</body></html>
